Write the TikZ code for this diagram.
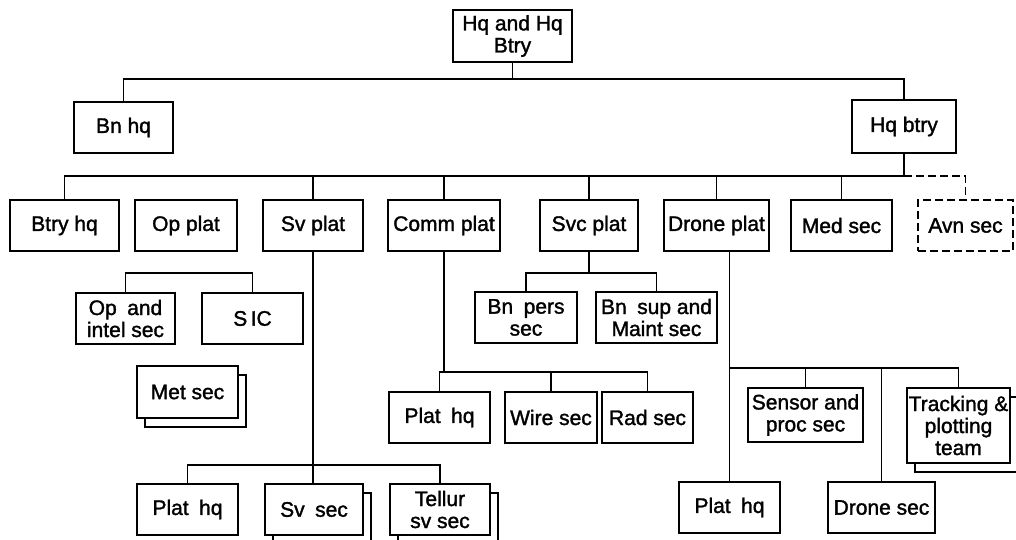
\documentclass[tikz,border=0pt]{standalone}
\usepackage{fontspec}
\setmainfont{Liberation Sans}
\newfontfamily\unitfamily{Liberation Sans}[FakeBold=1.5]
\usetikzlibrary{positioning, shadows}
\tikzset{
  unit/.style={rectangle, draw, line width=2pt, fill=white, minimum height=51pt,
               align=center, inner sep=1pt, outer sep=0pt, font=\unitfont},
  stacked/.style={copy shadow={shadow xshift=8pt, shadow yshift=-9pt}},
  planned/.style={dash pattern=on 8pt off 4pt},
  link/.style={line width=1.8pt}
}
\newcommand{\unitfont}{\unitfamily\fontsize{21}{22}\selectfont}

\begin{document}
\begin{tikzpicture}
\useasboundingbox (0,0) rectangle (1016pt,-540pt);
\node[unit, minimum width=119pt, minimum height=52pt] (top) at (512.5pt,-36pt) {Hq and Hq\\ Btry};
\node[unit, minimum width=99pt, below=40pt of top, xshift=-389pt] (bnhq) {Bn hq};
\node[unit, minimum width=104pt, minimum height=53pt, below=38pt of top, xshift=391.5pt] (hqbtry) {Hq btry};
% platoons and sections
\node[unit, minimum width=109pt, below=47pt of bnhq, xshift=-59pt] (btryhq) {Btry hq};
\node[unit, minimum width=102pt, right=16pt of btryhq] (opplat) {Op plat};
\node[unit, minimum width=100pt, right=26pt of opplat] (svplat) {Sv plat};
\node[unit, minimum width=112pt, right=25pt of svplat] (commplat) {Comm plat};
\node[unit, minimum width=98pt, right=40pt of commplat] (svcplat) {Svc plat};
\node[unit, minimum width=105pt, right=26pt of svcplat] (droneplat) {Drone plat};
\node[unit, minimum width=101pt, right=22pt of droneplat] (medsec) {Med sec};
\node[unit, planned, minimum width=95pt, right=26pt of medsec] (avnsec) {Avn sec};
% op plat
\node[unit, minimum width=99pt, below=42pt of opplat, xshift=-60.5pt] (opintel) {Op\enspace and\\ intel sec};
\node[unit, minimum width=101pt, right=27pt of opintel] (sic) {S\,IC};
\node[unit, stacked, minimum width=101pt, minimum height=52pt, below=22pt of opintel, xshift=62pt] (metsec) {Met sec};
% sv plat
\node[unit, minimum width=101pt, below=66pt of metsec] (svplathq) {Plat\enspace hq};
\node[unit, stacked, minimum width=98pt, right=27pt of svplathq] (svsec) {Sv\enspace sec};
\node[unit, stacked, minimum width=100pt, right=27pt of svsec] (tellur) {Tellur\\ sv sec};
% comm plat
\node[unit, minimum width=101pt, below=141pt of commplat, xshift=-4.5pt] (cplathq) {Plat\enspace hq};
\node[unit, minimum width=92pt, right=15pt of cplathq] (wiresec) {Wire sec};
\node[unit, minimum width=91pt, right=5pt of wiresec] (radsec) {Rad sec};
% svc plat
\node[unit, minimum width=102pt, below=41pt of svcplat, xshift=-63pt] (bnpers) {Bn\enspace pers\\ sec};
\node[unit, minimum width=121pt, right=19pt of bnpers] (bnsup) {Bn\enspace sup and\\ Maint sec};
% drone plat
\node[unit, minimum width=115pt, minimum height=54pt, below=137pt of droneplat, xshift=89pt] (sensor) {Sensor and\\ proc sec};
\node[unit, stacked, minimum width=103pt, minimum height=75pt, below right=0pt and 44pt of sensor.north east] (tracking) {Tracking \&\\ plotting\\ team};
\node[unit, minimum width=101pt, below=40pt of sensor, xshift=-76pt] (droneplathq) {Plat\enspace hq};
\node[unit, minimum width=107pt, right=48pt of droneplathq] (dronesec) {Drone sec};
% lines
\coordinate[below=17pt of top] (bus1);
\coordinate[below=23pt of hqbtry] (bus2);
\coordinate[above=20pt of opintel] (bus3);
\coordinate[below=22pt of svcplat] (bus4);
\coordinate[above=20pt of cplathq] (bus5);
\coordinate[above=19pt of svplathq] (bus6);
\coordinate[above=20pt of sensor] (bus7);
\draw[link] (top.south) -- (bus1);
\draw[link] (bnhq.north) |- (bus1) -| (hqbtry.north);
\draw[link] (hqbtry.south) -- (bus2);
\draw[link] (btryhq.north) |- (bus2);
\foreach \n in {svplat, commplat, svcplat, droneplat, medsec}
  \draw[link] (\n.north) -- (\n.north |- bus2);
\draw[link, planned] (bus2) -| (avnsec.north);
\draw[link] (opintel.north) -- (bus3) -| (sic.north);
\draw[link] (svcplat.south) -- (bus4);
\draw[link] (bnpers.north) |- (bus4) -| (bnsup.north);
\draw[link] (commplat.south) -- (commplat.south |- bus5);
\draw[link] (cplathq.north) -- (bus5) -| (radsec.north);
\draw[link] (wiresec.north) -- (wiresec.north |- bus5);
\draw[link] (svplat.south) -- (svplat.south |- svsec.north);
\draw[link] (svplathq.north) -- (bus6) -| (tellur.north);
\draw[link] (droneplathq.north) -- (droneplathq.north |- droneplat.south);
\draw[link] (droneplathq.north |- bus7) -| (tracking.north);
\draw[link] (sensor.north) -- (bus7);
\draw[link] (dronesec.north) -- (dronesec.north |- bus7);
\end{tikzpicture}
\end{document}
